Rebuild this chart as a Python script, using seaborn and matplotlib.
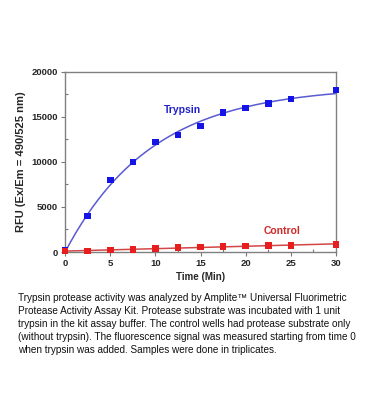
import matplotlib
matplotlib.use('Agg')
import matplotlib.pyplot as plt
import seaborn as sns
import numpy as np
import pandas as pd
from matplotlib.ticker import MultipleLocator

# data
time_min = [0, 2.5, 5, 7.5, 10, 12.5, 15, 17.5, 20, 22.5, 25, 30]
trypsin = [150, 4000, 8000, 10000, 12200, 13000, 14000, 15500, 16000, 16500, 17000, 18000]
control = [100, 100, 200, 300, 400, 500, 550, 600, 650, 700, 750, 850]

caption = ("Trypsin protease activity was analyzed by Amplite\u2122 Universal Fluorimetric\n"
           "Protease Activity Assay Kit. Protease substrate was incubated with 1 unit\n"
           "trypsin in the kit assay buffer. The control wells had protease substrate only\n"
           "(without trypsin). The fluorescence signal was measured starting from time 0\n"
           "when trypsin was added. Samples were done in triplicates.")

df = pd.DataFrame({'time': time_min, 'Trypsin': trypsin, 'Control': control})

sns.set_style('white')
plt.rcParams['font.family'] = ['Liberation Sans', 'DejaVu Sans']

fig = plt.figure(figsize=(3.7, 4.2), dpi=100)
ax = fig.add_axes([0.176, 0.40, 0.732, 0.429])

blue_pt, blue_ln = '#1414e6', '#5a5ad2'
red_pt, red_ln = '#e61e1e', '#d24646'

# single exponential fit for trypsin: y = A(1 - exp(-k t))
t = np.array(time_min, dtype=float)
y = np.array(trypsin, dtype=float)
best = None
for k in np.linspace(0.01, 0.5, 2000):
    g = 1 - np.exp(-k * t)
    A = (g @ y) / (g @ g)
    err = ((A * g - y) ** 2).sum()
    if best is None or err < best[0]:
        best = (err, A, k)
_, A, k = best
tt = np.linspace(0, 30, 200)
ax.plot(tt, A * (1 - np.exp(-k * tt)), color=blue_ln, lw=1.1, zorder=2)

# linear fit for control
p = np.polyfit(time_min, control, 1)
ax.plot(tt, np.polyval(p, tt), color=red_ln, lw=1.1, zorder=2)

sns.scatterplot(data=df, x='time', y='Trypsin', ax=ax, marker='s', s=22,
                color=blue_pt, edgecolor='none', zorder=3, clip_on=False)
sns.scatterplot(data=df, x='time', y='Control', ax=ax, marker='s', s=22,
                color=red_pt, edgecolor='none', zorder=3, clip_on=False)

ax.set_xlim(0, 30)
ax.set_ylim(0, 20000)
ax.xaxis.set_major_locator(MultipleLocator(5))
ax.xaxis.set_minor_locator(MultipleLocator(2.5))
ax.yaxis.set_major_locator(MultipleLocator(5000))
ax.yaxis.set_minor_locator(MultipleLocator(2500))
ax.tick_params(which='major', direction='out', length=3, width=0.8, color='#777777',
               labelsize=6.8, pad=2, bottom=True, left=True)
ax.tick_params(which='minor', direction='in', length=2, width=0.8, color='#777777',
               bottom=True, left=True)
for lab in ax.get_xticklabels() + ax.get_yticklabels():
    lab.set_fontweight('bold')
for s in ax.spines.values():
    s.set_color('#808080')
    s.set_linewidth(1.0)

ax.set_xlabel('Time (Min)', fontsize=7, fontweight='bold', labelpad=3)
ax.set_ylabel('RFU (Ex/Em = 490/525 nm)', fontsize=8, fontweight='bold', labelpad=4)

ax.text(13, 15800, 'Trypsin', color='#2020c8', fontsize=7.5, fontweight='bold', ha='center', va='center')
ax.text(24, 2300, 'Control', color='#d02828', fontsize=7.5, fontweight='bold', ha='center', va='center')

fig.text(0.048, 0.302, caption, fontsize=7.2, va='top', ha='left', linespacing=1.38, color='#111111')

fig.savefig('out.png', dpi=100)
plt.close()
